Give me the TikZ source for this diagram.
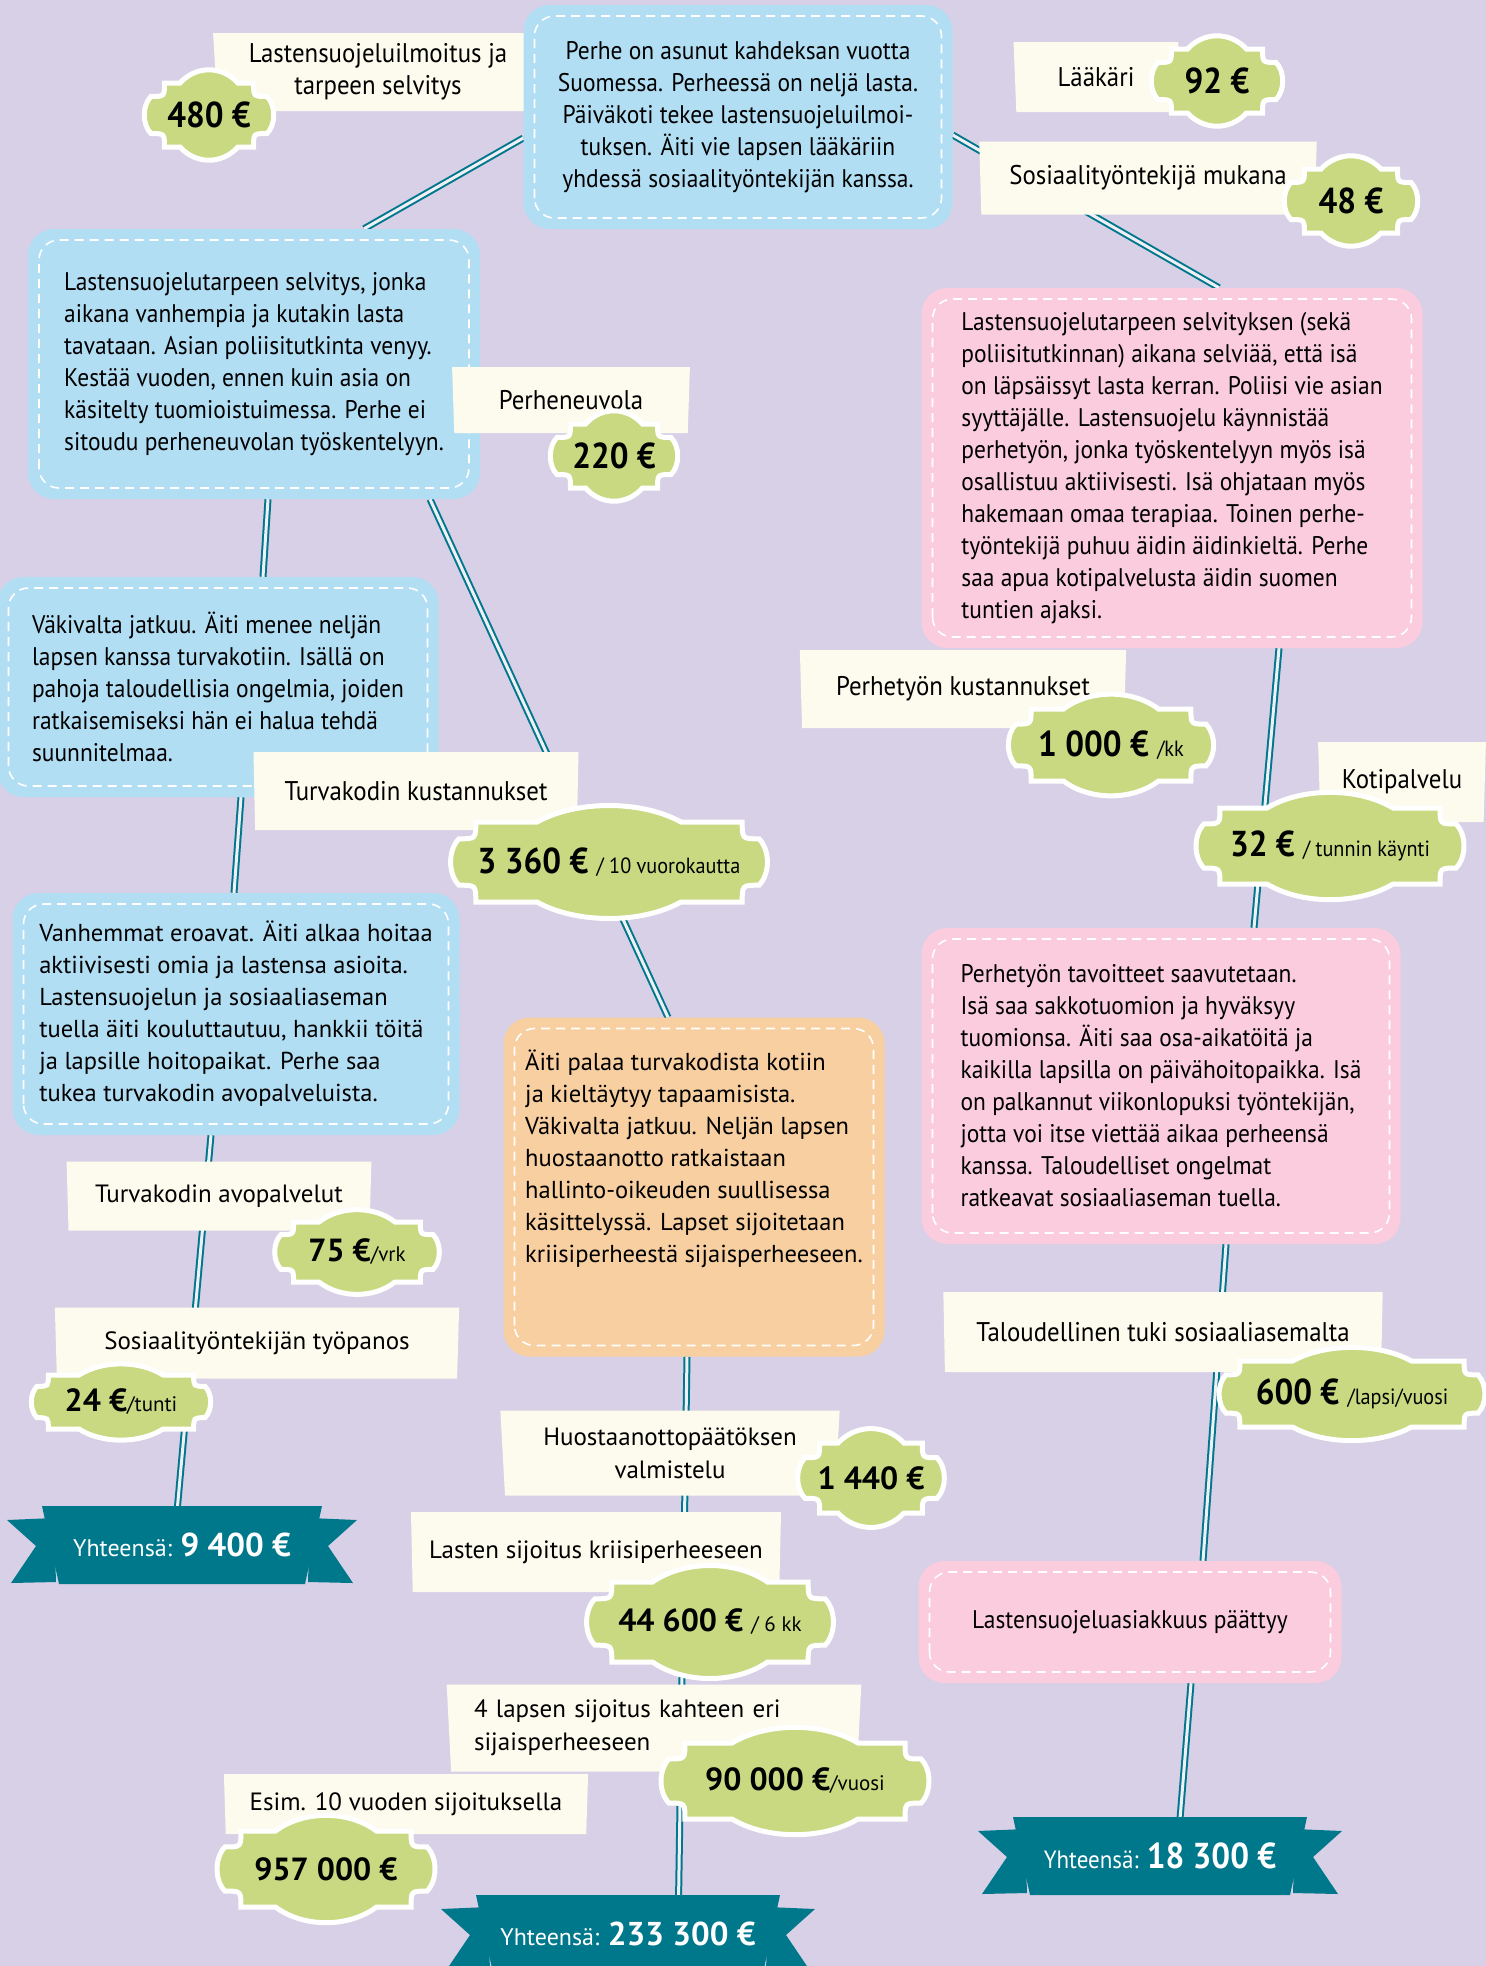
\documentclass[tikz,border=0pt]{standalone}
\usepackage{fontspec}
\setmainfont{PT Sans}[FakeStretch=0.92]
\newfontfamily\widefont{PT Sans}
\usetikzlibrary{shapes.geometric}

\definecolor{lavender}{HTML}{D8D0E6}
\definecolor{skyblue}{HTML}{B2DEF4}
\definecolor{rosepink}{HTML}{FBCCDD}
\definecolor{peach}{HTML}{F8CFA0}
\definecolor{leafgreen}{HTML}{C9D982}
\definecolor{cream}{HTML}{FDFBEE}
\definecolor{petrol}{HTML}{00788C}

\pgfdeclarelayer{back}
\pgfdeclarelayer{links}
\pgfsetlayers{back,links,main}

\newcommand\bodyfont{\fontsize{25.5}{32}\selectfont}
\newcommand\widebody{\widefont\fontsize{24.5}{32}\selectfont}
\newcommand\labelfont{\fontsize{27}{32}\selectfont}
\newcommand\widelabel{\widefont\fontsize{25}{33}\selectfont}
\newcommand\widetag{\widefont\fontsize{32}{36}\selectfont}
\newcommand\unitpart[1]{{\normalfont\fontsize{22}{24}\selectfont#1}}
\newcommand\unitwide[1]{{\widefont\mdseries\fontsize{21}{24}\selectfont#1}}

\tikzset{
  storybox/.style={rounded corners=26pt, fill=#1, inner sep=0pt, font=\bodyfont,
    path picture={\draw[white, line width=1.6pt, dash pattern=on 9pt off 6pt, rounded corners=20pt]
      ([shift={(11pt,11pt)}]path picture bounding box.south west) rectangle
      ([shift={(-11pt,-11pt)}]path picture bounding box.north east);}},
  costbar/.style={trapezium, trapezium left angle=86, trapezium right angle=86,
    shape border rotate=180, trapezium stretches=true, fill=cream, inner sep=0pt,
    font=\labelfont, align=center},
  widebar/.style={costbar, font=\widelabel},
  tagshape/.style={fill=leafgreen, draw=white, line width=5pt},
  tagtext/.style={font=\bfseries\fontsize{36}{38}\selectfont, inner sep=0pt},
  ribbontext/.style={text=white, inner sep=0pt},
  link/.style={draw=petrol, line width=2pt, double=lavender!35!white, double distance=3pt}
}

% cost tag: x, y, name, half width, half height, text
\newcommand\costtag[6]{%
  \begin{scope}[shift={(#1,#2)}]
    \pgfmathsetmacro\ta{#4}
    \pgfmathsetmacro\tb{#5}
    \pgfmathsetmacro\tr{0.42*#5}
    \pgfmathsetmacro\tc{min(0.5*#4,1.8*#5)}
    \pgfmathsetmacro\th{0.55*#5}
    \pgfmathsetmacro\ts{0.28*#5}
    \filldraw[tagshape]
      (-\ta,-\tb+\tr) .. controls (-\ta+\tr,-\tb+\tr) .. (-\ta+\tr,-\tb)
      -- (-\tc,-\tb) .. controls (-0.45*\tc,-\tb-\th) and (0.45*\tc,-\tb-\th) .. (\tc,-\tb)
      -- (\ta-\tr,-\tb) .. controls (\ta-\tr,-\tb+\tr) .. (\ta,-\tb+\tr)
      .. controls (\ta+\ts,-0.3*\tb) and (\ta+\ts,0.3*\tb) .. (\ta,\tb-\tr)
      .. controls (\ta-\tr,\tb-\tr) .. (\ta-\tr,\tb)
      -- (\tc,\tb) .. controls (0.45*\tc,\tb+\th) and (-0.45*\tc,\tb+\th) .. (-\tc,\tb)
      -- (-\ta+\tr,\tb) .. controls (-\ta+\tr,\tb-\tr) .. (-\ta,\tb-\tr)
      .. controls (-\ta-\ts,0.3*\tb) and (-\ta-\ts,-0.3*\tb) .. cycle;
  \end{scope}
  \node[tagtext] (#3) at (#1,#2) {#6};
}

% total ribbon: x, y, name, half width, text
\newcommand\totalribbon[5]{%
  \begin{scope}[shift={(#1,#2)}, fill=petrol]
    \pgfmathsetmacro\ra{#4}
    \fill (-\ra+12,-27) -- (-\ra-35,-25) -- (-\ra-6,1) -- (-\ra-31,38) -- (-\ra+14,37) -- cycle;
    \fill (\ra-12,-27) -- (\ra+35,-25) -- (\ra+6,1) -- (\ra+31,38) -- (\ra-14,37) -- cycle;
    \fill (-\ra,-39) -- (\ra,-39) -- (\ra-17,39) -- (-\ra+17,39) -- cycle;
  \end{scope}
  \node[ribbontext] (#3) at (#1,#2) {#5};
}

\begin{document}
\begin{tikzpicture}[x=1pt, y=-1pt]
\useasboundingbox (0,0) rectangle (1486,1966);
\begin{pgfonlayer}{back}
  \fill[lavender] (0,0) rectangle (1486,1966);
\end{pgfonlayer}

\node[costbar, minimum width=330, minimum height=78] (reportbar) at (378,72) {Lastensuojeluilmoitus ja\\tarpeen selvitys};
\costtag{209}{115}{reportcost}{58}{32}{480 €}

% story boxes
\node[storybox=skyblue, minimum width=429, minimum height=224, align=center] (start) at (738,117)
  {Perhe on asunut kahdeksan vuotta\\Suomessa. Perheessä on neljä lasta.\\Päiväkoti tekee lastensuojeluilmoi-\\tuksen. Äiti vie lapsen lääkäriin\\yhdessä sosiaalityöntekijän kanssa.};
\node[storybox=skyblue, minimum width=452, minimum height=270, align=left] (inquiry) at (254,364)
  {Lastensuojelutarpeen selvitys, jonka\\aikana vanhempia ja kutakin lasta\\tavataan. Asian poliisitutkinta venyy.\\Kestää vuoden, ennen kuin asia on\\käsitelty tuomioistuimessa. Perhe ei\\sitoudu perheneuvolan työskentelyyn.};
\node[storybox=skyblue, minimum width=441, minimum height=220, align=left] (violence) at (218,687)
  {Väkivalta jatkuu. Äiti menee neljän\\lapsen kanssa turvakotiin. Isällä on\\pahoja taloudellisia ongelmia, joiden\\ratkaisemiseksi hän ei halua tehdä\\suunnitelmaa.};
\node[storybox=skyblue, minimum width=447, minimum height=242, align=left, font=\widebody] (divorce) at (236,1014)
  {Vanhemmat eroavat. Äiti alkaa hoitaa\\aktiivisesti omia ja lastensa asioita.\\Lastensuojelun ja sosiaaliaseman\\tuella äiti kouluttautuu, hankkii töitä\\ja lapsille hoitopaikat. Perhe saa\\tukea turvakodin avopalveluista.};
\node[storybox=peach, minimum width=381, minimum height=339, align=left, font=\widebody] (custody) at (694,1187)
  {Äiti palaa turvakodista kotiin\\ja kieltäytyy tapaamisista.\\Väkivalta jatkuu. Neljän lapsen\\huostaanotto ratkaistaan\\hallinto-oikeuden suullisessa\\käsittelyssä. Lapset sijoitetaan\\kriisiperheestä sijaisperheeseen.\\[30pt]};
\node[storybox=rosepink, minimum width=501, minimum height=360, align=left] (familywork) at (1172,468)
  {Lastensuojelutarpeen selvityksen (sekä\\poliisitutkinnan) aikana selviää, että isä\\on läpsäissyt lasta kerran. Poliisi vie asian\\syyttäjälle. Lastensuojelu käynnistää\\perhetyön, jonka työskentelyyn myös isä\\osallistuu aktiivisesti. Isä ohjataan myös\\hakemaan omaa terapiaa. Toinen perhe-\\työntekijä puhuu äidin äidinkieltä. Perhe\\saa apua kotipalvelusta äidin suomen\\tuntien ajaksi.};
\node[storybox=rosepink, minimum width=479, minimum height=316, align=left] (goals) at (1161,1086)
  {Perhetyön tavoitteet saavutetaan.\\Isä saa sakkotuomion ja hyväksyy\\tuomionsa. Äiti saa osa-aikatöitä ja\\kaikilla lapsilla on päivähoitopaikka. Isä\\on palkannut viikonlopuksi työntekijän,\\jotta voi itse viettää aikaa perheensä\\kanssa. Taloudelliset ongelmat\\ratkeavat sosiaaliaseman tuella.};
\node[storybox=rosepink, minimum width=423, minimum height=122] (closed) at (1130,1622)
  {Lastensuojeluasiakkuus päättyy};

% cost labels
\node[costbar, minimum width=166, minimum height=70] (doctorbar) at (1096,77) {Lääkäri};
\costtag{1217}{81}{doctorcost}{59}{32}{92 €}
\node[costbar, minimum width=338, minimum height=73] (socialbar) at (1148,178) {Sosiaalityöntekijä mukana};
\costtag{1351}{201}{socialcost}{60}{32}{48 €}
\node[costbar, minimum width=238, minimum height=66] (counselbar) at (571,400) {Perheneuvola};
\costtag{614}{456}{counselcost}{57}{32}{220 €}
\node[costbar, minimum width=326, minimum height=78] (shelterbar) at (416,791) {Turvakodin kustannukset};
\costtag{609}{862}{sheltercost}{150}{40}{3 360 € \unitpart{/ 10 vuorokautta}}
\node[costbar, minimum width=327, minimum height=78] (workbar) at (963,689) {Perhetyön kustannukset};
\costtag{1111}{745}{workcost}{95}{36}{1 000 € \unitpart{/kk}}
\node[costbar, minimum width=168, minimum height=80] (homebar) at (1402,782) {Kotipalvelu};
\costtag{1330}{846}{homecost}{126}{38}{32 € \unitpart{/ tunnin käynti}}
\node[widebar, minimum width=305, minimum height=69] (outpatientbar) at (219,1196) {Turvakodin avopalvelut};
\costtag{357}{1252}{outpatientcost}{76}{30}{\widetag 75 €\unitwide{/vrk}}
\node[widebar, minimum width=405, minimum height=71] (laborbar) at (257,1343) {Sosiaalityöntekijän työpanos};
\costtag{121}{1402}{laborcost}{84}{27}{\widetag 24 €\unitwide{/tunti}}
\node[costbar, minimum width=440, minimum height=80] (supportbar) at (1163,1332) {Taloudellinen tuki sosiaaliasemalta};
\costtag{1352}{1394}{supportcost}{126}{33}{600 € \unitpart{/lapsi/vuosi}}
\node[widebar, minimum width=340, minimum height=85] (decisionbar) at (670,1453) {Huostaanottopäätöksen\\valmistelu};
\costtag{871}{1478}{decisioncost}{66}{35}{\widetag 1 440 €}
\node[widebar, minimum width=371, minimum height=80] (crisisbar) at (596,1552) {Lasten sijoitus kriisiperheeseen};
\costtag{710}{1622}{crisiscost}{115}{40}{\widetag 44 600 € \unitwide{/ 6 kk}}
\node[widebar, minimum width=415, minimum height=87, text width=360, align=left] (fosterbar) at (654,1728) {4 lapsen sijoitus kahteen eri\\sijaisperheeseen};
\costtag{795}{1781}{fostercost}{126}{38}{\widetag 90 000 €\unitwide{/vuosi}}
\node[widebar, minimum width=365, minimum height=60] (tenyearbar) at (406,1804) {Esim. 10 vuoden sijoituksella};
\costtag{326}{1869}{tenyearcost}{101}{38}{\widetag 957 000 €}

% totals
\totalribbon{182}{1545}{lefttotal}{140}{{\widefont\fontsize{24}{28}\selectfont Yhteensä: }{\widefont\bfseries\fontsize{33}{36}\selectfont 9 400 €}}
\totalribbon{628}{1934}{midtotal}{152}{{\widefont\fontsize{24}{28}\selectfont Yhteensä: }{\widefont\bfseries\fontsize{33}{36}\selectfont 233 300 €}}
\totalribbon{1160}{1856}{righttotal}{147}{{\fontsize{25}{28}\selectfont Yhteensä: }{\bfseries\fontsize{36}{38}\selectfont 18 300 €}}

\begin{pgfonlayer}{links}
  \draw[link] ([yshift=-21pt]start.west) -- ([xshift=110pt]inquiry.north);
  \draw[link] ([yshift=-18pt]start.east) -- ([xshift=47pt]familywork.north);
  \draw[link] ([xshift=14pt]inquiry.south) -- ([xshift=45pt]violence.north);
  \draw[link] ([xshift=176pt]inquiry.south) -- ([xshift=-26pt]custody.north);
  \draw[link] ([xshift=23pt]violence.south) -- ([xshift=-2pt]divorce.north);
  \draw[link] ([xshift=-25pt]divorce.south) -- ([xshift=-8pt]lefttotal.center);
  \draw[link] ([xshift=-7pt]custody.south) -- ([xshift=50pt]midtotal.center);
  \draw[link] ([xshift=107pt]familywork.south) -- ([xshift=93pt]goals.north);
  \draw[link] ([xshift=65pt]goals.south) -- ([xshift=73pt]closed.north);
  \draw[link] ([xshift=61pt]closed.south) -- ([xshift=17pt]righttotal.center);
\end{pgfonlayer}
\end{tikzpicture}
\end{document}
